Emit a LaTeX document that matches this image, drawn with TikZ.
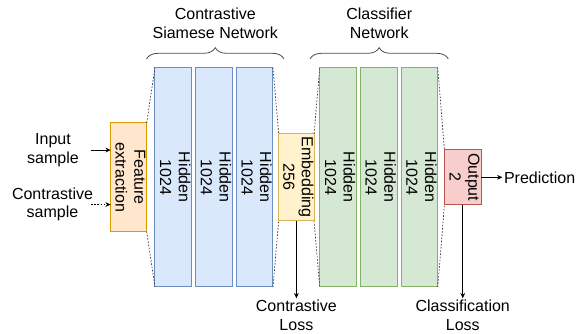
\documentclass[tikz,border=0pt]{standalone}
\usepackage{fontspec}
\setmainfont{Liberation Sans}
\usepackage{graphicx}
\usepackage{xcolor}
\usetikzlibrary{calc}
\usetikzlibrary{positioning}
\usetikzlibrary{arrows.meta}
\usetikzlibrary{decorations.pathreplacing}

\definecolor{featfill}{HTML}{FFE6CC}
\definecolor{featline}{HTML}{D79B00}
\definecolor{hidfill}{HTML}{DAE8FC}
\definecolor{hidline}{HTML}{6C8EBF}
\definecolor{embfill}{HTML}{FFF2CC}
\definecolor{embline}{HTML}{D6B656}
\definecolor{clsfill}{HTML}{D5E8D4}
\definecolor{clsline}{HTML}{82B366}
\definecolor{outfill}{HTML}{F8CECC}
\definecolor{outline}{HTML}{B85450}

% vertical two-line label inside a layer (zero width, so the box keeps its size)
\newcommand{\vlabel}[1]{\makebox[0pt][c]{\rotatebox{-90}{\begin{tabular}{@{}c@{}}#1\end{tabular}}}}

\tikzset{
    layer/.style={rectangle, line width=0.75pt, inner sep=0pt, outer sep=0pt, minimum width=27.5pt, minimum height=164.5pt},
    featbox/.style={layer, draw=featline, fill=featfill, minimum width=27pt, minimum height=81.75pt},
    hidbox/.style={layer, draw=hidline, fill=hidfill},
    embbox/.style={layer, draw=embline, fill=embfill, minimum width=26.5pt, minimum height=65.25pt},
    clsbox/.style={layer, draw=clsline, fill=clsfill},
    outbox/.style={layer, draw=outline, fill=outfill, minimum height=41.25pt},
    guide/.style={black!80, line width=0.5pt, dash pattern=on 1.2pt off 1.2pt},
    flow/.style={-{Stealth[length=4pt, width=3.6pt]}, line width=0.6pt},
    lbl/.style={align=center, inner sep=1pt},
    curly/.style={black!70, line width=0.6pt, decorate, decoration={brace, amplitude=8.5pt}}
}

\begin{document}
\begin{tikzpicture}[x=0.75pt, y=-0.75pt, font=\fontsize{12}{14}\selectfont]
    \useasboundingbox (0,0) rectangle (586,334);

    % layers
    \node [featbox] (feat) at (128.7, 177.3) {\vlabel{Feature\\extraction}};
    \node [hidbox, right=6.2pt of feat] (hid1) {\vlabel{Hidden\\1024}};
    \node [hidbox, right=3pt of hid1] (hid2) {\vlabel{Hidden\\1024}};
    \node [hidbox, right=3pt of hid2] (hid3) {\vlabel{Hidden\\1024}};
    \node [embbox, right=4.3pt of hid3] (emb) {\vlabel{Embedding\\256}};
    \node [clsbox, right=4.3pt of emb] (cls1) {\vlabel{Hidden\\1024}};
    \node [clsbox, right=3pt of cls1] (cls2) {\vlabel{Hidden\\1024}};
    \node [clsbox, right=3pt of cls2] (cls3) {\vlabel{Hidden\\1024}};
    \node [outbox, right=5pt of cls3] (out) {\vlabel{Output\\2}};

    % widening / narrowing guides
    \draw [guide] (feat.north east) -- (hid1.north west);
    \draw [guide] (feat.south east) -- (hid1.south west);
    \draw [guide] (hid3.north east) -- (emb.north west);
    \draw [guide] (hid3.south east) -- (emb.south west);
    \draw [guide] (emb.north east) -- (cls1.north west);
    \draw [guide] (emb.south east) -- (cls1.south west);
    \draw [guide] (cls3.north east) -- (out.north west);
    \draw [guide] (cls3.south east) -- (out.south west);

    % inputs
    \coordinate (in_a) at ($(feat.north west)!0.25!(feat.south west)$);
    \coordinate (in_b) at ($(feat.north west)!0.75!(feat.south west)$);
    \coordinate (in_a_start) at ([xshift=-14.8pt] in_a);
    \coordinate (in_b_start) at ([xshift=-14.8pt] in_b);
    \node [lbl] (input_lbl) at (53, 150) {Input\\sample};
    \node [lbl] (contr_lbl) at (52.5, 204.5) {Contrastive\\sample};
    \draw [flow] (in_a_start) -- (in_a);
    \draw [flow, dash pattern=on 1.2pt off 1.2pt] (in_b_start) -- (in_b);

    % outputs
    \coordinate (pred_end) at ([xshift=16pt] out.east);
    \draw [flow] (out.east) -- (pred_end);
    \node [lbl, anchor=west] (pred) at (pred_end) {Prediction};

    \coordinate (closs_end) at (emb.south |- 0, 298.3);
    \coordinate (cls_loss_end) at (out.south |- 0, 298.3);
    \draw [flow] (emb.south) -- (closs_end);
    \draw [flow] (out.south) -- (cls_loss_end);
    \node [lbl, anchor=north] (closs) at (closs_end) {Contrastive\\Loss};
    \node [lbl, anchor=north] (cls_loss) at (cls_loss_end) {Classification\\Loss};

    % group braces
    \draw [curly] (146.5, 59) -- (284, 59);
    \draw [curly] (310, 59) -- (448.3, 59);
    \node [lbl, anchor=south] (siam_title) at (215.3, 40) {Contrastive\\Siamese Network};
    \node [lbl, anchor=south] (cls_title) at (379.2, 40) {Classifier\\Network};
\end{tikzpicture}
\end{document}
